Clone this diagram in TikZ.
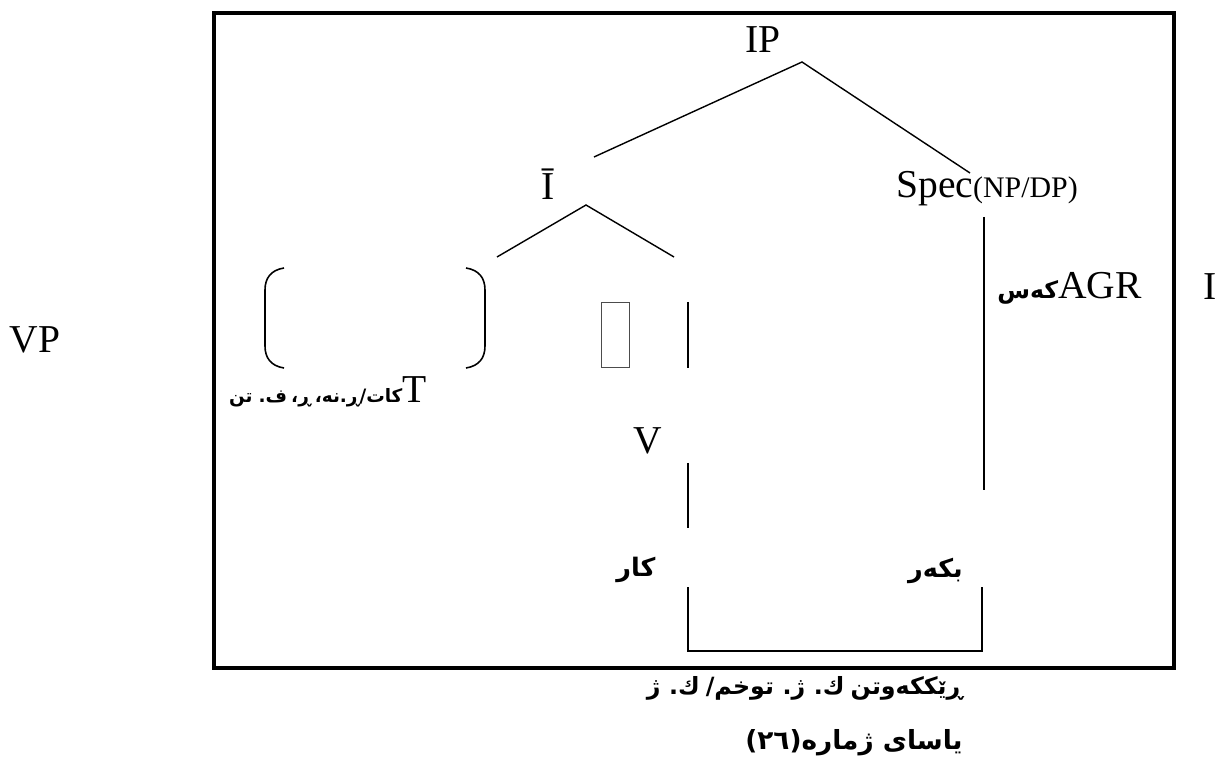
\documentclass[tikz,border=0pt]{standalone}
\usepackage{fontspec}
\setmainfont{Liberation Serif}
\newfontfamily\arabicfont[Script=Arabic]{DejaVu Sans}
\TeXXeTstate=1
\newcommand{\kutext}[2][13.5]{{\arabicfont\bfseries\fontsize{#1}{16}\selectfont\spaceskip=0.22em\beginR #2\endR}}

\begin{document}
\begin{tikzpicture}[x=0.02cm, y=-0.02cm,
  lab/.style={font=\fontsize{22.5}{27}\selectfont, inner sep=0pt},
  kur/.style={font=\arabicfont\bfseries\fontsize{14.5}{17}\selectfont, inner sep=0pt},
  branch/.style={line width=0.8pt},
  stem/.style={line width=1.1pt}]
  \useasboundingbox (0,0) rectangle (1225,760);
  \draw[line width=2pt] (214,13) rectangle (1174,668);

  \node[lab, anchor=base] (ip) at (763,53) {IP};
  \node[lab, anchor=base] (ibar) at (548,200) {Ī};
  \node[lab, anchor=base west] (spec) at (896,198) {Spec{\fontsize{17}{20}\selectfont(NP/DP)}};
  \node[lab, anchor=base east] (agr) at (1142,299) {\kutext{کەس}AGR};
  \node[lab, anchor=base] (infl) at (1210,300) {I};
  \node[lab, anchor=base] (vp) at (35,353) {VP};
  \node[lab, anchor=base east] (tense) at (427,403) {\kutext[10.5]{کات/ڕ.نە، ڕ، ف. تن}T};
  \node[draw=black!70, line width=0.4pt, minimum width=16, minimum height=37, inner sep=0pt] (blank) at (615,335) {};
  \node[lab, anchor=base] (verb) at (648,454) {V};
  \node[kur, anchor=base] (kar) at (636,576) {\beginR کار\endR};
  \node[kur, anchor=base east] (bkar) at (963,577) {\beginR بکەر\endR};
  \node[kur, font=\arabicfont\bfseries\fontsize{13.5}{16}\selectfont, anchor=base east] (agree) at (963,694) {\spaceskip=0.25em\beginR ڕێککەوتن ك. ژ. توخم/ ك. ژ\endR};
  \node[kur, font=\arabicfont\bfseries\fontsize{15}{18}\selectfont, anchor=base east] (caption) at (963,749) {\beginR یاسای ژمارە(٢٦)\endR};

  \coordinate (ipfork) at (802,62);
  \coordinate (ibartop) at (594,157);
  \coordinate (spectop) at (970,173);
  \coordinate (ibarfork) at (586,205);
  \coordinate (tleg) at (497,257);
  \coordinate (vleg) at (674,257);
  \coordinate (specfoot) at (984,217);
  \coordinate (agrfoot) at (984,490);
  \coordinate (vtop) at (688,302);
  \coordinate (vbot) at (688,368);
  \coordinate (vtop2) at (688,463);
  \coordinate (vbot2) at (688,528);
  \coordinate (karlink) at (688,587);
  \coordinate (bkarlink) at (982,587);

  \draw[branch] (ibartop) -- (ipfork) -- (spectop);
  \draw[branch] (tleg) -- (ibarfork) -- (vleg);
  \draw[stem] (specfoot) -- (agrfoot);
  \draw[stem] (vtop) -- (vbot);
  \draw[stem] (vtop2) -- (vbot2);
  \draw[stem] (karlink) -- (688,651) -- (982,651) -- (bkarlink);

  \draw[line width=0.9pt] (284,268) .. controls (271,270) and (265,278) .. (265,290) -- (265,346) .. controls (265,358) and (271,366) .. (284,368);
  \draw[line width=0.9pt] (466,268) .. controls (479,270) and (485,278) .. (485,290) -- (485,346) .. controls (485,358) and (479,366) .. (466,368);
\end{tikzpicture}
\end{document}
